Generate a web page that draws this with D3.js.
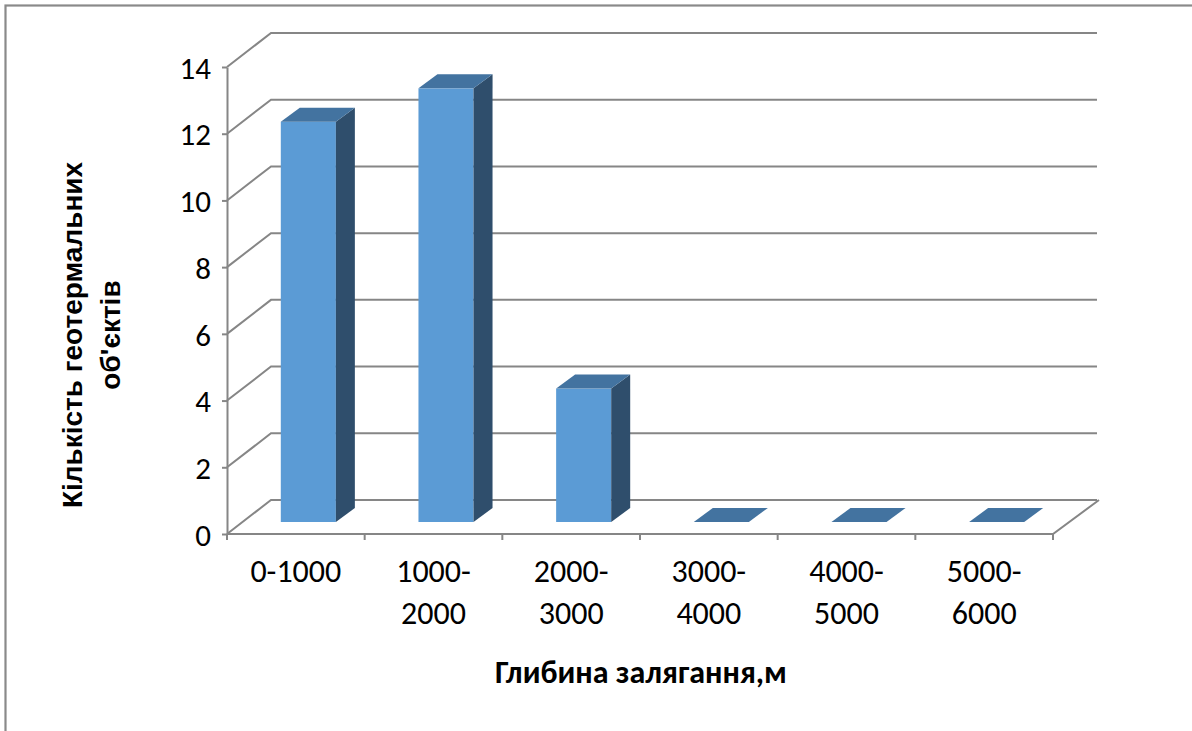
<!DOCTYPE html>
<html>
<head>
<meta charset="utf-8">
<script src="https://cdn.jsdelivr.net/npm/d3@7"></script>
<style>
  html, body { margin: 0; padding: 0; background: #fff; }
  svg { display: block; }
</style>
</head>
<body>
<svg id="chart" width="1192" height="731"></svg>
<script>
// Number of geothermal objects by depth of occurrence
const categories = [["0-1000"], ["1000-", "2000"], ["2000-", "3000"], ["3000-", "4000"], ["4000-", "5000"], ["5000-", "6000"]];
const counts = [12, 13, 4, 0, 0, 0];
const yTicks = [0, 2, 4, 6, 8, 10, 12, 14];
const xTitle = "Глибина залягання,м";
const yTitleLines = ["Кількість геотермальних", "об'єктів"];

const svg = d3.select("#chart");
const W = 1192, H = 731;
const bodyFont = "Calibri, Carlito, 'Open Sans', sans-serif";

// outer chart-area frame (runs past the right and bottom edges)
svg.append("rect")
  .attr("x", 5.5).attr("y", 5.5)
  .attr("width", W + 20).attr("height", H + 20)
  .attr("fill", "none").attr("stroke", "#8a8a8a").attr("stroke-width", 2.2);

// plot geometry: front plane, back wall depth offset
const x0 = 227, x1 = 1053, yBase = 534, yTop = 67;
const depthX = 44, depthY = -34;      // back wall offset
const barOffX = 12.5, barOffY = -12;  // bar front plane offset
const barDX = 19, barDY = -14;        // bar depth

const keys = categories.map(c => c.join(""));
const x = d3.scaleBand().domain(keys).range([x0, x1]).paddingInner(0.6).paddingOuter(0.3);
const y = d3.scaleLinear().domain([0, 14]).range([yBase, yTop]);

const gridColor = "#868686";
const grid = svg.append("g").attr("stroke", gridColor).attr("stroke-width", 2).attr("fill", "none");

// side-wall diagonals and back-wall gridlines
yTicks.forEach(v => {
  const yy = y(v);
  grid.append("path")
    .attr("d", `M${x0},${yy}L${x0 + depthX},${yy + depthY}L${x1 + depthX},${yy + depthY}`);
});
// floor front edge and right edge
grid.append("path")
  .attr("d", `M${x0},${yBase}L${x1},${yBase}L${x1 + depthX + 2},${yBase + depthY}`);

// category boundary ticks along the floor front edge
const step = x.step();
d3.range(0, categories.length + 1).forEach(i => {
  const xx = x0 + i * step;
  grid.append("line").attr("x1", xx).attr("x2", xx).attr("y1", yBase).attr("y2", yBase + 6);
});

// y axis
const yAxis = d3.axisLeft(y).tickValues(yTicks).tickSize(5).tickSizeOuter(0).tickPadding(11);
const gy = svg.append("g").attr("transform", `translate(${x0},0)`).call(yAxis);
gy.selectAll("path, line").attr("stroke", gridColor).attr("stroke-width", 2);
gy.selectAll("text")
  .attr("font-family", bodyFont)
  .attr("font-size", 31).attr("fill", "#000").attr("dy", "0.36em");

// 3D bars
const colFront = "#5b9bd5", colSide = "#2f4e6c", colTop = "#4373a0";
const bars = svg.append("g");
keys.forEach((k, i) => {
  const v = counts[i];
  const bx = x(k) + barOffX, bw = x.bandwidth();
  const yb = y(0) + barOffY, yt = y(v) + barOffY;
  const g = bars.append("g");
  if (v > 0) {
    g.append("rect").attr("x", bx).attr("y", yt).attr("width", bw).attr("height", yb - yt).attr("fill", colFront);
    g.append("path")
      .attr("d", `M${bx + bw},${yt}L${bx + bw + barDX},${yt + barDY}L${bx + bw + barDX},${yb + barDY}L${bx + bw},${yb}Z`)
      .attr("fill", colSide);
  }
  g.append("path")
    .attr("d", `M${bx},${yt}L${bx + barDX},${yt + barDY}L${bx + bw + barDX},${yt + barDY}L${bx + bw},${yt}Z`)
    .attr("fill", colTop);
});

// category labels
const labels = svg.append("g")
  .attr("font-family", bodyFont)
  .attr("font-size", 32).attr("fill", "#000").attr("text-anchor", "middle");
categories.forEach((lines, i) => {
  const cx = x(keys[i]) + x.bandwidth() / 2;
  const t = labels.append("text").attr("x", cx).attr("y", 582);
  lines.forEach((ln, j) => {
    t.append("tspan").attr("x", cx).attr("y", 582 + j * 42).text(ln);
  });
});

// axis titles
svg.append("text")
  .attr("x", (x0 + x1) / 2 + 1).attr("y", 683)
  .attr("text-anchor", "middle")
  .attr("font-family", bodyFont)
  .attr("font-size", 32).attr("font-weight", "bold").attr("fill", "#000")
  .text(xTitle);

const yt = svg.append("text")
  .attr("transform", "translate(0,335) rotate(-90)")
  .attr("text-anchor", "middle")
  .attr("font-family", "Arial, 'Liberation Sans', sans-serif")
  .attr("font-size", 28).attr("font-weight", "bold").attr("fill", "#000");
yTitleLines.forEach((ln, j) => {
  yt.append("tspan").attr("x", 0).attr("y", 82 + j * 38).text(ln);
});
</script>
</body>
</html>
